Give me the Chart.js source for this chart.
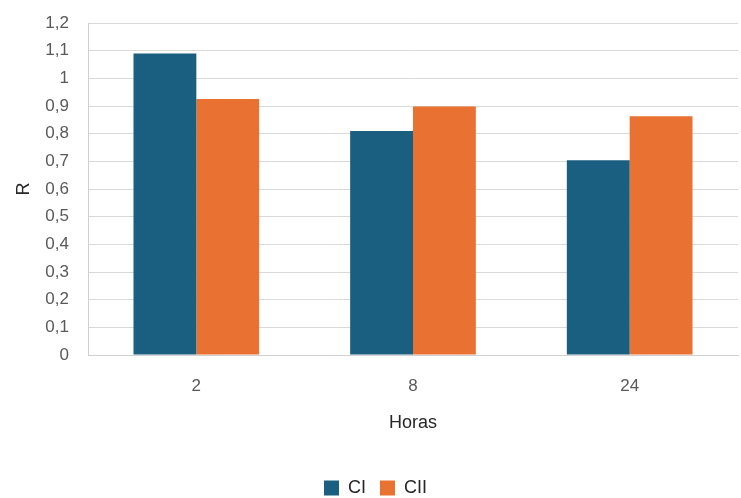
<!DOCTYPE html>
<html>
<head>
<meta charset="utf-8">
<script src="https://cdn.jsdelivr.net/npm/chart.js@4/dist/chart.umd.min.js"></script>
<style>
  html, body { margin: 0; padding: 0; background: #ffffff; }
  #wrap { width: 741px; height: 498px; }
</style>
</head>
<body>
<div id="wrap"><canvas id="c" width="741" height="498"></canvas></div>
<script>
const horas = ['2', '8', '24'];
const ciValues = [1.09, 0.81, 0.704];
const ciiValues = [0.925, 0.898, 0.863];

const FONT = "'Liberation Sans', Arial, sans-serif";

new Chart(document.getElementById('c'), {
  type: 'bar',
  data: {
    labels: horas,
    datasets: [
      { label: 'CI', data: ciValues, backgroundColor: '#1a5e80', borderWidth: 0 },
      { label: 'CII', data: ciiValues, backgroundColor: '#e97132', borderWidth: 0 }
    ]
  },
  options: {
    responsive: false,
    animation: false,
    devicePixelRatio: 1,
    layout: { padding: { top: 23, right: 3, left: 13, bottom: -9 } },
    datasets: { bar: { categoryPercentage: 0.58, barPercentage: 1.0 } },
    plugins: {
      legend: {
        position: 'bottom',
        labels: {
          font: { family: FONT, size: 18 },
          color: '#262626',
          boxWidth: 15,
          boxHeight: 15,
          padding: 14
        }
      },
      tooltip: { enabled: false }
    },
    scales: {
      x: {
        grid: { display: false, drawTicks: false },
        border: { color: '#d0d0d0', width: 1 },
        ticks: { font: { family: FONT, size: 17 }, color: '#595959', padding: 21 },
        title: {
          display: true,
          text: 'Horas',
          font: { family: FONT, size: 18 },
          color: '#262626',
          padding: { top: 10, bottom: 31 }
        },
        afterFit: scale => { scale.height = 110; }
      },
      y: {
        min: 0,
        max: 1.2,
        ticks: {
          stepSize: 0.1,
          font: { family: FONT, size: 17 },
          color: '#595959',
          padding: 19,
          callback: v => (Math.round(v * 10) / 10).toString().replace('.', ',')
        },
        grid: { color: '#d9d9d9', drawTicks: false },
        border: { color: '#d0d0d0', width: 1 },
        title: {
          display: true,
          text: 'R',
          font: { family: FONT, size: 18 },
          color: '#262626',
          padding: { top: 0, bottom: 6 }
        },
        afterFit: scale => {
          scale.width = 75;
          scale.paddingTop = 0;
          scale.paddingBottom = 0;
        }
      }
    }
  }
});
</script>
</body>
</html>
